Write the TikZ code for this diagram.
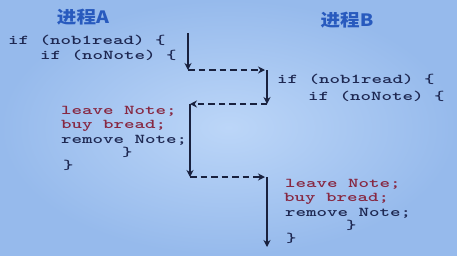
\documentclass[tikz,border=0pt]{standalone}
\usepackage{fontspec}
\usepackage{xcolor}
\usetikzlibrary{arrows.meta}
\newfontfamily\codefont[FakeStretch=1.48, Extension=.otf, UprightFont=lmmonolt10-bold]{lmmonolt10-bold}
\newfontfamily\cjkfont[FakeStretch=1.15]{Noto Sans CJK SC}

\definecolor{codeblue}{RGB}{30,40,82}
\definecolor{codered}{RGB}{135,40,66}
\definecolor{titleblue}{RGB}{40,90,190}
\definecolor{arrowblue}{RGB}{25,33,62}
\definecolor{bginner}{RGB}{188,214,248}
\definecolor{bgouter}{RGB}{150,186,236}

\begin{document}
\begin{tikzpicture}[x=1pt, y=-1pt,
    code/.style={anchor=west, inner sep=0pt, text=codeblue, font=\codefont\fontsize{13.5}{13.5}\selectfont},
    hot/.style={code, text=codered},
    title/.style={text=titleblue, font=\cjkfont\bfseries\fontsize{17}{17}\selectfont},
    flow/.style={-{Stealth[length=7pt,width=7pt]}, arrowblue, line width=2.4pt},
    hand/.style={flow, dash pattern=on 6.5pt off 4pt}]
    \shade[inner color=bginner, outer color=bgouter] (0,0) rectangle (457,255);
    \useasboundingbox (0,0) rectangle (457,255);
    % titles
    \node[title] (tA) at (83,17) {进程A};
    \node[title] (tB) at (347,20) {进程B};
    % process A
    \node[code] (a1) at (8,40) {if (nob1read) \{};
    \node[code] (a2) at (40,55) {if (noNote) \{};
    \node[hot]  (a3) at (61,111) {leave Note;};
    \node[hot]  (a4) at (61,125.5) {buy bread;};
    \node[code] (a5) at (61,140) {remove Note;};
    \node[code] (a6) at (122,152) {\}};
    \node[code] (a7) at (63,165) {\}};
    % process B
    \node[code] (b1) at (277,79) {if (nob1read) \{};
    \node[code] (b2) at (308,96) {if (noNote) \{};
    \node[hot]  (b3) at (285,184) {leave Note;};
    \node[hot]  (b4) at (284,199) {buy bread;};
    \node[code] (b5) at (285,213) {remove Note;};
    \node[code] (b6) at (346,225) {\}};
    \node[code] (b7) at (286,238) {\}};
    % interleaving
    \coordinate (s0) at (188,33);
    \coordinate (s1) at (188,70);
    \coordinate (s2) at (267,70);
    \coordinate (s3) at (267,104);
    \coordinate (s4) at (190,104);
    \coordinate (s5) at (190,177);
    \coordinate (s6) at (267,177);
    \coordinate (s7) at (267,247);
    \draw[flow] (s0) -- (s1);
    \draw[hand] (s1) -- ([xshift=-2pt]s2);
    \draw[flow] (s2) -- (s3);
    \draw[hand] (s3) -- (s4);
    \draw[flow] (s4) -- (s5);
    \draw[hand] (s5) -- ([xshift=-2pt]s6);
    \draw[flow] (s6) -- (s7);
\end{tikzpicture}
\end{document}
